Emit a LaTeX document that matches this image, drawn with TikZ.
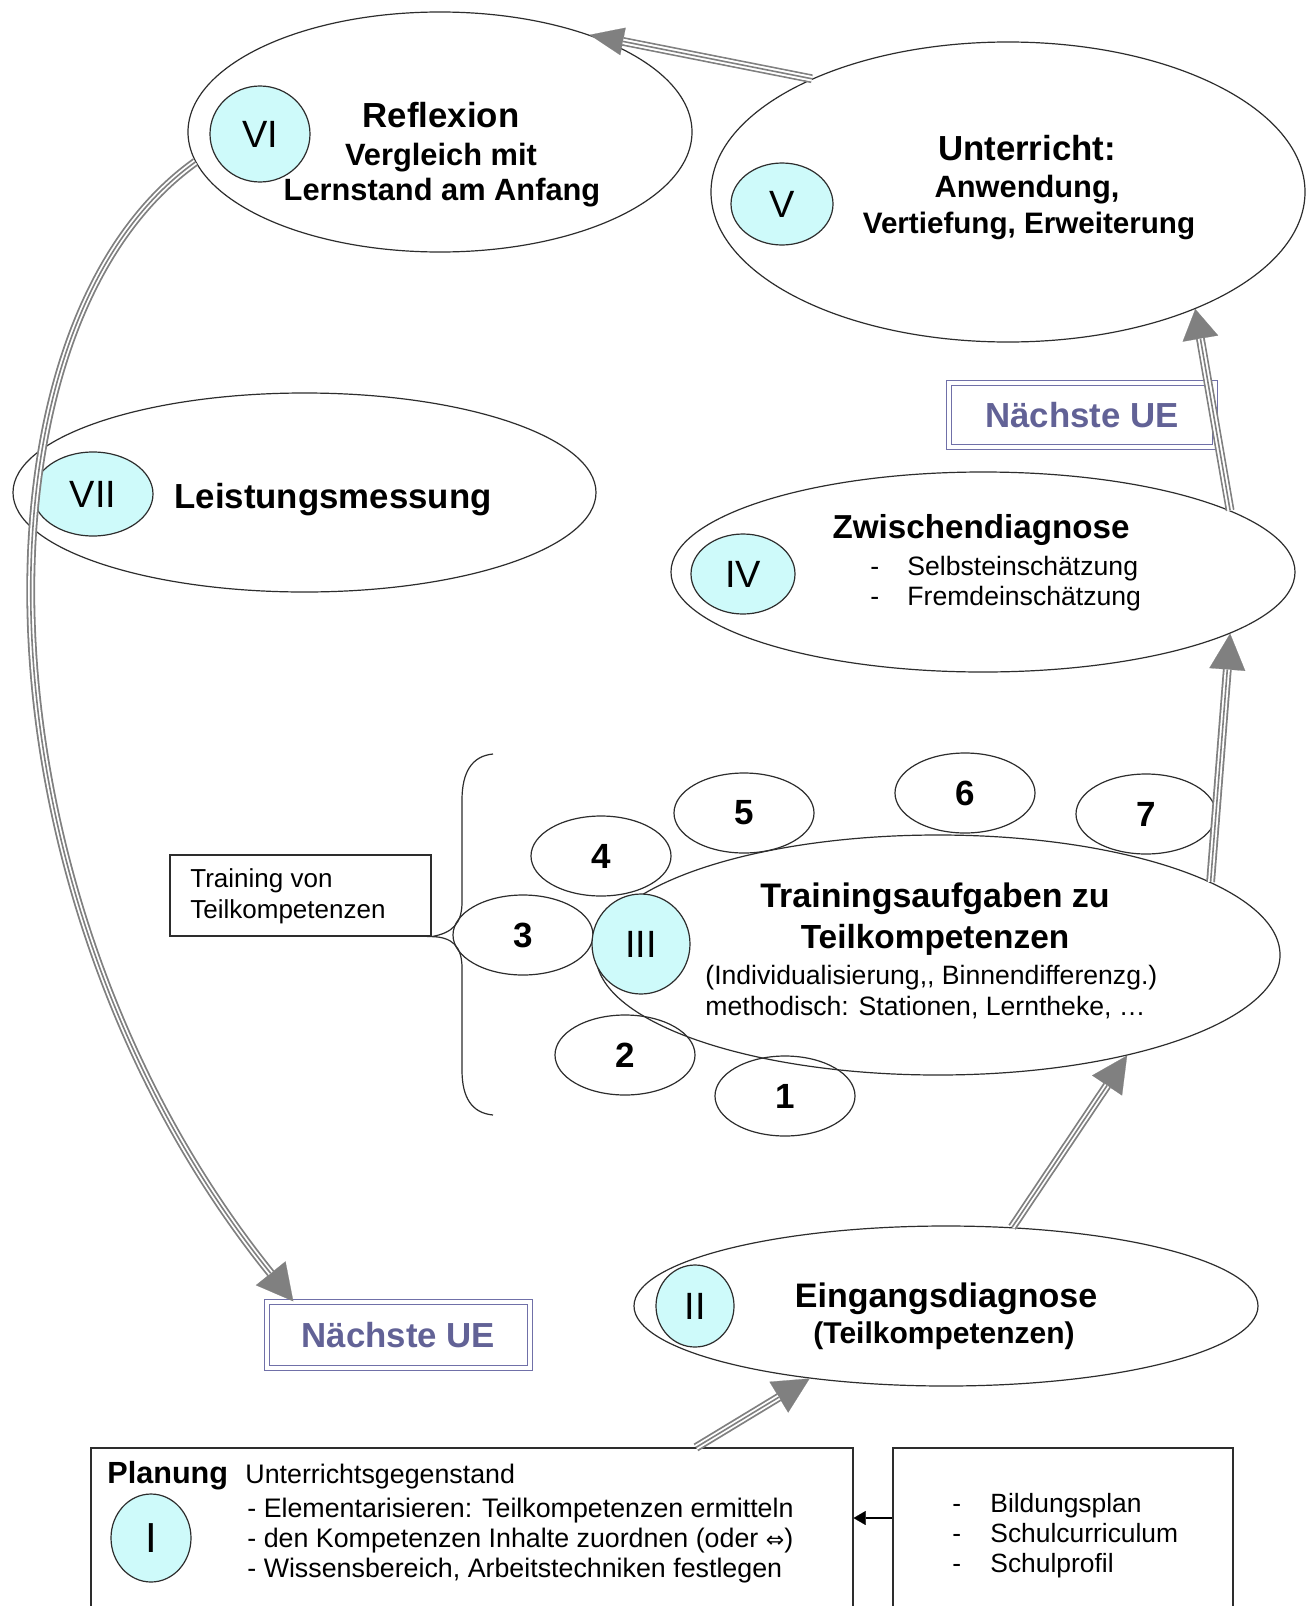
\documentclass[tikz,border=0pt]{standalone}
\usepackage{fontspec}
\setmainfont{Liberation Sans}
\newfontfamily\dejavu{DejaVu Sans}
\usetikzlibrary{shapes.geometric,arrows.meta,calc}
\definecolor{cyanfill}{RGB}{206,250,250}
\definecolor{arrgray}{RGB}{128,128,128}
\definecolor{uecol}{RGB}{112,112,168}
\definecolor{uetext}{RGB}{98,98,150}
\definecolor{edgecol}{RGB}{45,45,45}
\newcommand{\fsz}[1]{\fontsize{#1}{#1}\selectfont}
\begin{document}
\begin{tikzpicture}[x=0.5pt,y=-0.5pt,
  ell/.style={ellipse,draw=edgecol,line width=0.6pt,inner sep=0pt},
  circ/.style={ellipse,draw=edgecol,line width=0.6pt,fill=cyanfill,inner sep=0pt,font=\fsz{19pt}},
  smell/.style={ell,minimum width=70pt,minimum height=40pt,font=\bfseries\fsz{17.5pt}},
  boxn/.style={draw=edgecol,line width=0.6pt,inner sep=0pt},
  uebox/.style={draw=uecol,double=white,double distance=2pt,line width=0.7pt,inner sep=0pt,text=uetext,font=\bfseries\fsz{17.4pt}},
  hd/.style={inner sep=0pt,anchor=base,font=\bfseries\fsz{17.4pt}},
  sub/.style={inner sep=0pt,anchor=base,font=\bfseries\fsz{15.4pt}},
  small/.style={inner sep=0pt,anchor=base west,font=\fsz{13.3pt}},
  nb/.style={inner sep=0pt,anchor=base,font=\bfseries\fsz{17pt}},
  nr/.style={inner sep=0pt,anchor=base west,font=\fsz{13.3pt}},
  dblarr/.style={draw=arrgray,line width=4.4pt,-{Triangle[length=18pt,width=18pt,line width=0.1pt]},
    postaction={draw=white,line width=2.6pt,-,shorten >=18pt},
    postaction={draw=arrgray,line width=0.8pt,-,shorten >=18pt}},
  blackarr/.style={draw=black,line width=1.4pt,-{Triangle[length=6pt,width=7pt,line width=0.1pt]}}
]
\useasboundingbox[fill=white] (0,0) rectangle (1315,1606);

% big ellipses
\node[ell,minimum width=252pt,minimum height=120pt] (vi) at (440,132) {};
\node[ell,minimum width=297pt,minimum height=150pt] (v) at (1008,192) {};
\node[ell,minimum width=291.5pt,minimum height=99.5pt] (vii) at (304.5,492.5) {};
\node[ell,minimum width=312pt,minimum height=100pt] (iv) at (983,572) {};
\node[ell,minimum width=342pt,minimum height=120pt] (iii) at (938,955) {};
\node[ell,minimum width=312pt,minimum height=80pt] (ii) at (946,1306) {};

% small ellipses
\node[smell] (e1) at (785,1096) {1};
\node[smell] (e2) at (625,1055) {2};
\node[smell] (e3) at (523,935) {3};
\node[smell] (e4) at (601,856) {4};
\node[smell] (e5) at (744,813) {5};
\node[smell] (e6) at (965,793) {6};
\node[smell] (e7) at (1146,814) {7};

% numeral circles
\node[circ,minimum width=50pt,minimum height=48pt] (cvi) at (260,134) {VI};
\node[circ,minimum width=51pt,minimum height=41pt] (cv) at (782,204) {V};
\node[circ,minimum width=60pt,minimum height=42pt] (cvii) at (93,494) {VII};
\node[circ,minimum width=52pt,minimum height=40pt] (civ) at (743,574) {IV};
\node[circ,minimum width=49pt,minimum height=50pt] (ciii) at (641,944) {III};
\node[circ,minimum width=39pt,minimum height=41pt] (cii) at (695,1306) {II};
\node[circ,minimum width=40pt,minimum height=44pt,font=\fsz{21pt}] (ci) at (151,1538) {I};

% boxes
\node[uebox,minimum width=133pt,minimum height=32pt] (ue1) at (1082,415) {Nächste UE};
\node[uebox,minimum width=131.5pt,minimum height=33pt] (ue2) at (398.5,1335) {Nächste UE};
\node[boxn,minimum width=130.5pt,minimum height=40.5pt] (train) at (300.5,895.5) {};
\node[boxn,minimum width=381pt,minimum height=96pt] (plan) at (472,1544) {};
\node[boxn,minimum width=170pt,minimum height=96pt] (rbox) at (1063,1544) {};

% brace
\draw[draw=edgecol,line width=0.6pt] (493,754) .. controls (472,756) and (462,772) .. (462,800)
  -- (462,902) .. controls (462,924) and (452,933) .. (train.south east)
  .. controls (452,937) and (462,946) .. (462,968)
  -- (462,1070) .. controls (462,1098) and (472,1113) .. (493,1115);

% texts VI
\node[hd] (t6a) at (441,127) {Reflexion};
\node[sub] (t6b) at (441,165) {Vergleich mit};
\node[sub] (t6c) at (442,200) {Lernstand am Anfang};
% texts V
\node[hd] (t5a) at (1027,160) {Unterricht:};
\node[sub] (t5b) at (1027,197) {Anwendung,};
\node[sub,font=\bfseries\fsz{14.8pt}] (t5c) at (1029,233) {Vertiefung, Erweiterung};
% VII
\node[hd,anchor=base west] (t7) at (174,508) {Leistungsmessung};
% IV
\node[hd,font=\bfseries\fsz{16.6pt}] (t4a) at (981,538) {Zwischendiagnose};
\node[small] (t4b) at (870,575) {-};
\node[small] (t4c) at (907,575) {Selbsteinschätzung};
\node[small] (t4d) at (870,605) {-};
\node[small] (t4e) at (907,605) {Fremdeinschätzung};
% III
\node[nb] (t3a) at (935,907) {Trainingsaufgaben zu};
\node[nb,font=\bfseries\fsz{16.7pt}] (t3b) at (935,948) {Teilkompetenzen};
\node[nr] (t3c) at (705,984) {(Individualisierung{,}{,} Binnendifferenzg.)};
\node[nr] (t3d) at (705,1015) {methodisch: Stationen, Lerntheke, …};
% II
\node[nb] (t2a) at (946,1307) {Eingangsdiagnose};
\node[nb,font=\bfseries\fsz{15pt}] (t2b) at (944,1343) {(Teilkompetenzen)};
% training box
\node[nr,font=\fsz{13pt}] (tt1) at (190,887) {Training von};
\node[nr,font=\fsz{13pt}] (tt2) at (190,918) {Teilkompetenzen};
% Planung
\node[nb,anchor=base west,font=\bfseries\fsz{15.3pt}] (tp0) at (107,1483) {Planung};
\node[nr,font=\fsz{13.4pt}] (tp1) at (245,1483) {Unterrichtsgegenstand};
\node[nr,font=\fsz{13.4pt}] (tp2) at (247,1517) {- Elementarisieren: Teilkompetenzen ermitteln};
\node[nr,font=\fsz{13.4pt}] (tp3) at (247,1547) {- den Kompetenzen Inhalte zuordnen (oder {\dejavu\fsz{11pt}⇔})};
\node[nr,font=\fsz{13.4pt}] (tp4) at (247,1577) {- Wissensbereich, Arbeitstechniken festlegen};
% right box
\node[nr,font=\fsz{13.2pt}] (tr1d) at (952,1512) {-};
\node[nr,font=\fsz{13.2pt}] (tr1) at (990,1512) {Bildungsplan};
\node[nr,font=\fsz{13.2pt}] (tr2d) at (952,1542) {-};
\node[nr,font=\fsz{13.2pt}] (tr2) at (990,1542) {Schulcurriculum};
\node[nr,font=\fsz{13.2pt}] (tr3d) at (952,1572) {-};
\node[nr,font=\fsz{13.2pt}] (tr3) at (990,1572) {Schulprofil};

% connectors
\draw[dblarr] ([xshift=112pt]plan.north) -- (ii.-152);
\draw[dblarr] (ii.50.6) -- (iii.-28);
\draw[dblarr] (iii.15) -- (iv.-14);
\draw[dblarr,-{Triangle[length=15pt,width=18pt,line width=0.1pt]},
  postaction={draw=white,line width=2.6pt,-,shorten >=15pt},
  postaction={draw=arrgray,line width=0.8pt,-,shorten >=15pt}] (iv.14) -- (v.-32);
\draw[dblarr,-{Triangle[length=17pt,width=14pt,line width=0.1pt]},
  postaction={draw=white,line width=2.6pt,-,shorten >=17pt},
  postaction={draw=arrgray,line width=0.8pt,-,shorten >=17pt}] (v.150) -- (vi.33);
\draw[dblarr,-{Triangle[length=18pt,width=19pt,line width=0.1pt]}] (vi.187) .. controls (-40,330) and (-30,900) .. ([xshift=13.5pt]ue2.north west);
\draw[blackarr] ([yshift=13pt]rbox.west) -- ([yshift=13pt]plan.east);
\end{tikzpicture}
\end{document}
